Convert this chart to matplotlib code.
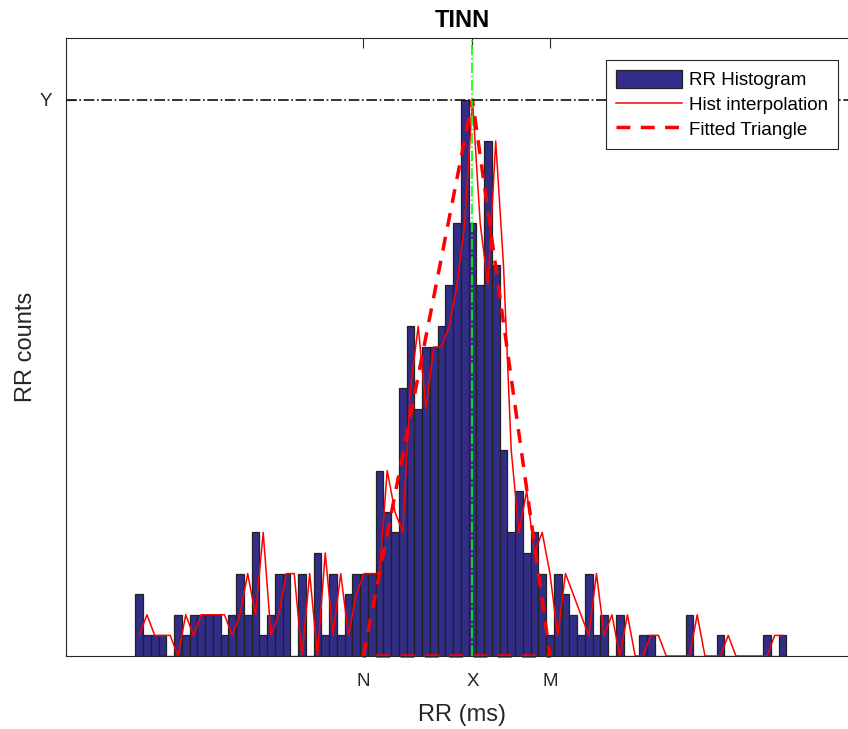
import numpy as np
import matplotlib
matplotlib.use("Agg")
import matplotlib.pyplot as plt

# histogram of RR intervals (bins of 1/128 s)
bin_start = 500.0
bin_width = 7.8125
rr_counts = [3, 1, 1, 1, 0, 2, 1, 2, 2, 2, 2, 1, 2, 4, 2, 6, 1, 2, 4, 4,
             0, 4, 0, 5, 1, 4, 1, 3, 4, 4, 4, 9, 7, 6, 13, 16, 12, 15, 15, 16,
             18, 21, 27, 21, 18, 25, 19, 10, 6, 8, 5, 6, 4, 1, 4, 3, 2, 1, 4, 1,
             2, 0, 2, 0, 0, 1, 1, 0, 0, 0, 0, 2, 0, 0, 0, 1, 0, 0, 0, 0,
             0, 1, 0, 1]

# interpolated histogram, same bin centres
interp_counts = [1, 2, 1, 1, 1, 0, 2, 1, 2, 2, 2, 2, 1, 2, 4, 2, 6, 1, 2, 4,
                 4, 0, 4, 0, 5, 1, 4, 1, 3, 4, 4, 4, 9, 7, 6, 13, 16, 12, 15, 15,
                 16, 18, 21, 27, 21, 18, 25, 19, 10, 6, 8, 5, 6, 4, 1, 4, 3, 2, 1, 4,
                 1, 2, 0, 2, 0, 0, 1, 1, 0, 0, 0, 0, 2, 0, 0, 0, 1, 0, 0, 0,
                 0, 0, 1, 1]

# triangle points (ms) and peak height
tri_N = 729.8
tri_X = 839.8
tri_M = 918.0
tri_Y = 27

edges = bin_start + bin_width * np.arange(len(rr_counts))
centers = edges + bin_width / 2

plt.rcParams['font.family'] = ['Liberation Sans', 'DejaVu Sans']

fig = plt.figure(figsize=(8.48, 7.29), dpi=100)
ax = fig.add_axes([66 / 848, 73 / 729, 792 / 848, 618 / 729])

bars = ax.bar(edges, rr_counts, width=bin_width, align='edge',
              color='#322D86', edgecolor='#222222', linewidth=0.9)
interp_line, = ax.plot(centers, interp_counts, color='red', lw=1.1)
tri_line, = ax.plot([tri_N, tri_X, tri_M, tri_N], [0, tri_Y, 0, 0],
                    color='red', lw=2.5, dashes=(4, 3), clip_on=False)
ax.axvline(tri_X, color='#00FF00', ls='-.', lw=1.2)
ax.axhline(tri_Y, color='#111111', ls='-.', lw=1.2)

ax.set_xlim(430.1, 1228.5)
ax.set_ylim(0, 30)
ax.set_xticks([tri_N, tri_X, tri_M])
ax.set_xticklabels(['N', 'X', 'M'])
ax.set_yticks([tri_Y])
ax.set_yticklabels(['Y'])
ax.tick_params(direction='in', length=7, width=0.8, top=True, right=True,
               labelsize=13.5, colors='#262626')
ax.tick_params(axis='x', pad=12)
ax.tick_params(axis='y', pad=10)
for s in ax.spines.values():
    s.set_color('#262626')
    s.set_linewidth(0.8)

ax.set_xlabel('RR (ms)', fontsize=17, color='#262626', labelpad=10)
ax.set_ylabel('RR counts', fontsize=17, color='#262626', labelpad=2)
ax.set_title('TINN', fontsize=17, fontweight='bold', pad=8)

leg = ax.legend([bars, interp_line, tri_line],
                ['RR Histogram', 'Hist interpolation', 'Fitted Triangle'],
                loc='upper right', bbox_to_anchor=(0.9747, 0.9644),
                borderaxespad=0, fontsize=13.5, frameon=True, fancybox=False,
                framealpha=1, edgecolor='#262626', handlelength=3.5,
                handleheight=1.05, handletextpad=0.35, labelspacing=0.3,
                borderpad=0.55)
leg.get_frame().set_linewidth(0.8)

fig.savefig('out.png', dpi=100)
